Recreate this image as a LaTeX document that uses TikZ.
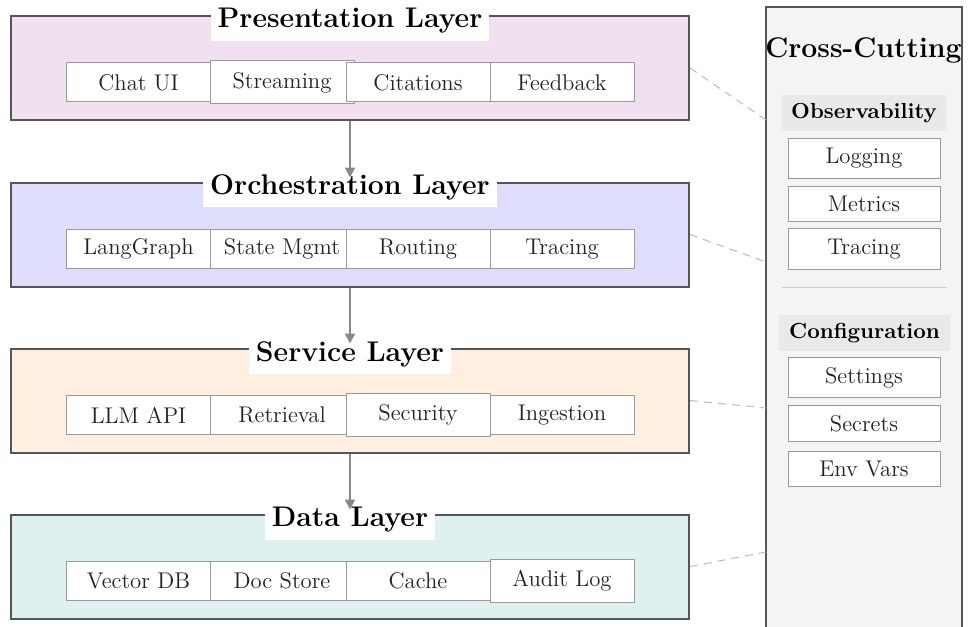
\documentclass[tikz,border=0pt]{standalone}
\usepackage{fontspec}
\usetikzlibrary{arrows.meta}

\definecolor{presfill}{HTML}{F1E0F0}
\definecolor{orchfill}{HTML}{DEDEFC}
\definecolor{servfill}{HTML}{FEEFE0}
\definecolor{datafill}{HTML}{DFF0F0}
\definecolor{layerline}{HTML}{555555}
\definecolor{panelfill}{HTML}{F4F4F4}
\definecolor{groupfill}{HTML}{E9E9E9}
\definecolor{itemline}{HTML}{999999}
\definecolor{itemtext}{HTML}{222222}
\definecolor{arrowgray}{HTML}{888888}
\definecolor{dashgray}{HTML}{BBBBBB}
\definecolor{sepgray}{HTML}{CCCCCC}

\newcommand\archItemFont{\fontsize{11.35pt}{13pt}\selectfont}
\newcommand\archTitleFont{\fontsize{14.2pt}{17pt}\selectfont\bfseries}
\newcommand\archGroupFont{\fontsize{10.9pt}{13pt}\selectfont\bfseries}

\begin{document}
\begin{tikzpicture}[x=0.5pt,y=-0.5pt,
  layerbox/.style={draw=layerline, line width=1pt, minimum width=339pt,
    minimum height=52pt, inner sep=0pt},
  layertitle/.style={fill=white, inner sep=3.5pt, font=\archTitleFont},
  item/.style={draw=itemline, line width=0.5pt, fill=white, minimum width=72pt,
    minimum height=19.5pt, inner xsep=2pt, inner ysep=1pt, font=\archItemFont,
    text=itemtext},
  tallitem/.style={item, minimum height=21.5pt},
  panel/.style={draw=layerline, fill=panelfill, line width=1pt,
    minimum width=98pt, minimum height=316.5pt, inner sep=0pt},
  group/.style={fill=groupfill, inner xsep=5pt, inner ysep=4.2pt,
    font=\archGroupFont},
  xitem/.style={draw=itemline, line width=0.5pt, fill=white, minimum width=76pt,
    inner xsep=2pt, inner ysep=5pt, font=\archItemFont, text=itemtext},
  flow/.style={draw=arrowgray, line width=1pt,
    -{Triangle[length=5pt,width=5pt]}, shorten >=2pt},
  tie/.style={draw=dashgray, line width=0.5pt, dash pattern=on 4pt off 3pt},
]
\clip (0,0) rectangle (968,626);
\fill[white] (0,0) rectangle (968,626);

% cross-cutting panel (runs past the lower edge)
\node[panel] (cross) at (864,323.5) {};
\node[inner sep=0pt, font=\archTitleFont] (crosstitle) at (863.5,50) {Cross-Cutting};

% observability group
\node[group] (obs) at (864,113) {Observability};
\node[xitem] (logging) at (864,158.5) {Logging};
\node[xitem] (metrics) at (864,204) {Metrics};
\node[xitem] (xtracing) at (864,249) {Tracing};

\draw[sepgray, line width=0.5pt] (782,287) -- (947,287);

% configuration group
\node[group] (conf) at (864.5,333) {Configuration};
\node[xitem] (settings) at (864,377.5) {Settings};
\node[xitem] (secrets) at (864,423.5) {Secrets};
\node[xitem] (envvars) at (864,469) {Env Vars};

% layers
\node[layerbox, fill=presfill] (pres) at (350,68) {};
\node[layerbox, fill=orchfill] (orch) at (350,234.5) {};
\node[layerbox, fill=servfill] (serv) at (350,400.5) {};
\node[layerbox, fill=datafill] (data) at (350,566.5) {};

\node[layertitle] (prestitle) at (350,21) {Presentation Layer};
\node[layertitle] (orchtitle) at (350,187.5) {Orchestration Layer};
\node[layertitle] (servtitle) at (350,354) {Service Layer};
\node[layertitle] (datatitle) at (350,520) {Data Layer};

% presentation components
\node[item] (chatui) at (138.5,82.5) {Chat UI};
\node[tallitem] (streaming) at (282,82.5) {Streaming};
\node[item] (citations) at (418,82.5) {Citations};
\node[item] (feedback) at (562,82.5) {Feedback};

% orchestration components
\node[item] (langgraph) at (138.5,249) {LangGraph};
\node[item] (statemgmt) at (282,249) {State Mgmt};
\node[item] (routing) at (418,249) {Routing};
\node[item] (tracing) at (562,249) {Tracing};

% service components
\node[item] (llmapi) at (138.5,415) {LLM API};
\node[item] (retrieval) at (282,415) {Retrieval};
\node[tallitem] (security) at (418,415) {Security};
\node[item] (ingestion) at (562,415) {Ingestion};

% data components
\node[item] (vectordb) at (138.5,581) {Vector DB};
\node[item] (docstore) at (282,581) {Doc Store};
\node[item] (cache) at (418,581) {Cache};
\node[tallitem] (auditlog) at (562,581) {Audit Log};

% flow between layers
\draw[flow] (pres.south) -- (orch.north);
\draw[flow] (orch.south) -- (serv.north);
\draw[flow] (serv.south) -- (data.north);

% ties to the cross-cutting panel
\coordinate (tap1) at (766,120);
\coordinate (tap2) at (766,262);
\coordinate (tap3) at (766,408);
\coordinate (tap4) at (766,552);
\draw[tie] (pres.east) -- (tap1);
\draw[tie] (orch.east) -- (tap2);
\draw[tie] (serv.east) -- (tap3);
\draw[tie] (data.east) -- (tap4);
\end{tikzpicture}
\end{document}
